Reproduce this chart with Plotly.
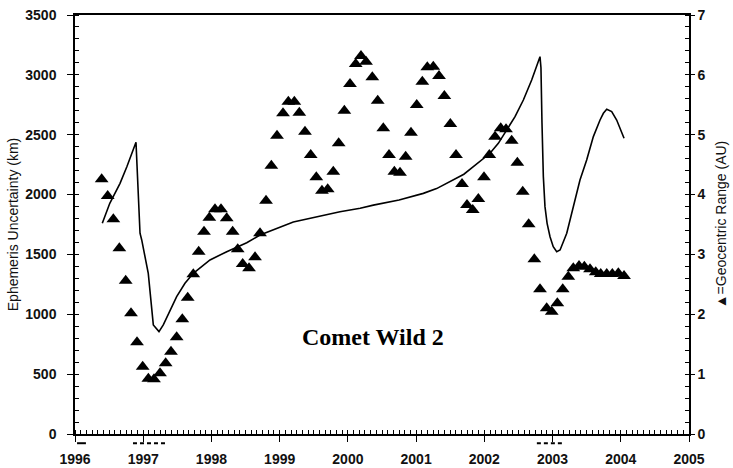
import plotly.graph_objects as go

# Ephemeris uncertainty (km), solid line, left axis
line_year = [1996.40, 1996.51, 1996.66, 1996.76, 1996.894, 1996.953, 1996.978, 1997.074, 1997.148,
             1997.231, 1997.294, 1997.393, 1997.49, 1997.612, 1997.734, 1997.979, 1998.224, 1998.517,
             1998.712, 1999.20, 1999.69, 1999.884, 2000.18, 2000.373, 2000.75, 2001.106, 2001.30,
             2001.497, 2001.70, 2001.839, 2002.083, 2002.205, 2002.328, 2002.45, 2002.572, 2002.694,
             2002.816, 2002.83, 2002.845, 2002.865, 2002.889, 2002.92, 2002.963, 2003.01, 2003.061,
             2003.11, 2003.208, 2003.304, 2003.402, 2003.50, 2003.598, 2003.696, 2003.745, 2003.794,
             2003.867, 2003.94, 2003.999, 2004.048]
line_km = [1760, 1927, 2094, 2233, 2437, 1677, 1621, 1342, 911,
           855, 911, 1036, 1147, 1259, 1342, 1454, 1523, 1598,
           1662, 1771, 1830, 1857, 1886, 1912, 1955, 2010, 2050,
           2107, 2170, 2233, 2345, 2428, 2539, 2651, 2790, 2957,
           3152, 3060, 2600, 2150, 1899, 1760, 1648, 1565, 1523,
           1537, 1677, 1899, 2122, 2289, 2484, 2623, 2679, 2712,
           2693, 2623, 2540, 2470]

# Geocentric range (AU), triangles, right axis
tri_year = [1996.391, 1996.479, 1996.562, 1996.650, 1996.743, 1996.821, 1996.909, 1996.992, 1997.075,
            1997.158, 1997.246, 1997.329, 1997.407, 1997.490, 1997.573, 1997.652, 1997.734, 1997.813,
            1997.891, 1997.969, 1998.052, 1998.140, 1998.224, 1998.311, 1998.385, 1998.458, 1998.551,
            1998.639, 1998.712, 1998.800, 1998.878, 1998.961, 1999.049, 1999.127, 1999.215, 1999.288,
            1999.371, 1999.455, 1999.537, 1999.620, 1999.704, 1999.786, 1999.865, 1999.948, 2000.031,
            2000.115, 2000.192, 2000.266, 2000.358, 2000.437, 2000.519, 2000.603, 2000.681, 2000.764,
            2000.847, 2000.925, 2001.009, 2001.091, 2001.164, 2001.252, 2001.336, 2001.414, 2001.502,
            2001.585, 2001.673, 2001.746, 2001.830, 2001.912, 2001.995, 2002.073, 2002.157, 2002.240,
            2002.318, 2002.401, 2002.484, 2002.563, 2002.650, 2002.733, 2002.816, 2002.914, 2002.988,
            2003.070, 2003.149, 2003.231, 2003.304, 2003.388, 2003.466, 2003.549, 2003.633, 2003.706,
            2003.794, 2003.876, 2003.964, 2004.048]
tri_au = [4.255, 3.976, 3.587, 3.102, 2.561, 2.016, 1.532, 1.124, 0.924,
          0.914, 1.014, 1.181, 1.375, 1.615, 1.916, 2.277, 2.668, 3.046,
          3.380, 3.614, 3.754, 3.754, 3.603, 3.380, 3.086, 2.840, 2.768,
          2.952, 3.353, 3.898, 4.482, 4.984, 5.357, 5.551, 5.551, 5.368,
          5.050, 4.661, 4.288, 4.065, 4.088, 4.382, 4.856, 5.401, 5.847,
          6.181, 6.315, 6.220, 5.959, 5.568, 5.107, 4.661, 4.382, 4.365,
          4.633, 5.033, 5.496, 5.886, 6.126, 6.136, 5.981, 5.647, 5.179,
          4.661, 4.176, 3.826, 3.742, 3.926, 4.288, 4.661, 4.967, 5.107,
          5.090, 4.900, 4.532, 4.048, 3.503, 2.918, 2.417, 2.100, 2.043,
          2.183, 2.417, 2.628, 2.768, 2.807, 2.795, 2.751, 2.701, 2.673,
          2.673, 2.673, 2.685, 2.640]

# Observation windows marked below the time axis
obs_start = [1996.03, 1996.85, 2002.77]
obs_end = [1996.16, 1997.35, 2003.18]
obs_dash = ["solid", "4px,3px", "4px,3px"]

x_ticks = list(range(1996, 2006))
title_text = "Comet Wild 2"

tick_font = dict(family="Arial", size=14, color="#111111", weight="bold")
title_font = dict(family="Arial", size=14, color="#111111")

fig = go.Figure()
fig.add_trace(go.Scatter(x=line_year, y=line_km, mode="lines",
                         line=dict(color="black", width=1.6), yaxis="y", showlegend=False))
fig.add_trace(go.Scatter(x=tri_year, y=tri_au, mode="markers",
                         marker=dict(symbol="triangle-up", size=12, color="black"),
                         yaxis="y2", showlegend=False))

for s, e, d in zip(obs_start, obs_end, obs_dash):
    fig.add_shape(type="line", xref="x", yref="paper", x0=s, x1=e, y0=-0.022, y1=-0.022,
                  line=dict(color="black", width=2, dash=d))

fig.add_annotation(x=2000.37, y=810, xref="x", yref="y", text="<b>" + title_text + "</b>",
                   showarrow=False, font=dict(family="Times New Roman, Liberation Serif, serif",
                                              size=24, color="black"))

fig.update_layout(
    width=733, height=468,
    margin=dict(l=75, r=44, t=15, b=34, autoexpand=False),
    paper_bgcolor="white", plot_bgcolor="white",
    font=dict(family="Arial", size=12, color="#111111"),
    xaxis=dict(range=[1996, 2005], tickvals=x_ticks, ticktext=[str(v) for v in x_ticks],
               automargin=False, ticklabelstandoff=5,
               showgrid=False, zeroline=False, showline=True, linecolor="black", linewidth=1.5,
               mirror=True, ticks="outside", ticklen=6, tickwidth=1.3, tickcolor="black",
               minor=dict(dtick=1/12, tick0=1996, ticks="inside", ticklen=4, tickwidth=1,
                          tickcolor="black", showgrid=False),
               tickfont=tick_font),
    yaxis=dict(range=[0, 3500], dtick=500, showgrid=False, zeroline=False, showline=True,
               automargin=False, ticklabelstandoff=8,
               linecolor="black", linewidth=1.5, ticks="outside", ticklen=6, tickwidth=1.3,
               tickcolor="black",
               minor=dict(dtick=100, ticks="inside", ticklen=4, tickwidth=1, tickcolor="black",
                          showgrid=False),
               tickfont=tick_font,
               title=dict(text="Ephemeris Uncertainty (km)", standoff=3, font=title_font)),
    yaxis2=dict(range=[0, 7], dtick=1, overlaying="y", side="right", showgrid=False,
                automargin=False,
                zeroline=False, showline=True, linecolor="black", linewidth=1.5,
                ticks="outside", ticklen=4, tickwidth=1.3, tickcolor="black",
                minor=dict(dtick=0.2, ticks="inside", ticklen=4, tickwidth=1,
                           tickcolor="black", showgrid=False),
                tickfont=tick_font,
                title=dict(text="▲=Geocentric Range (AU)", standoff=12, font=title_font)),
)

fig.write_html("out.html", config={"displayModeBar": False},
               post_script="document.body.style.margin='0';")
